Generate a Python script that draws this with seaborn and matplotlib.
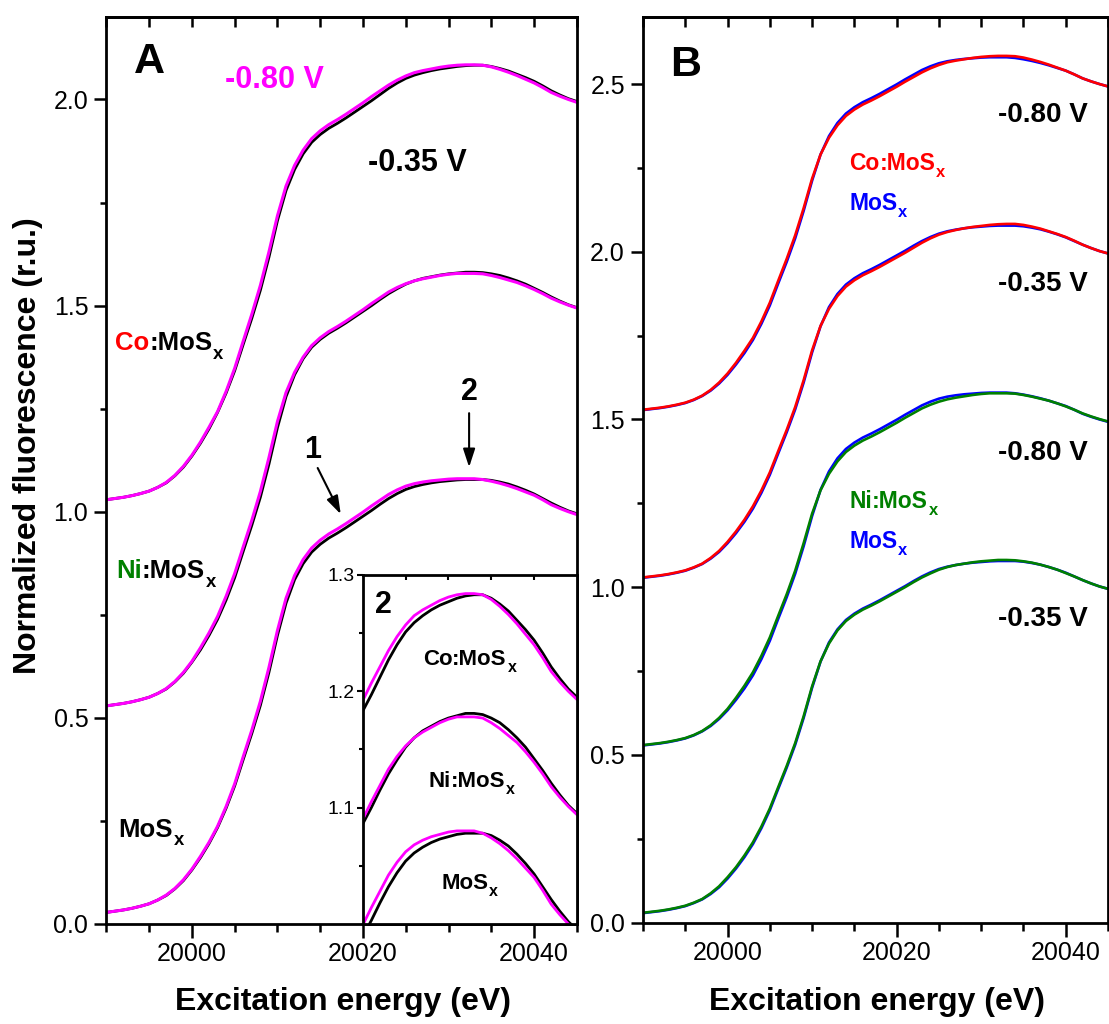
import numpy as np
import matplotlib
matplotlib.use("Agg")
import matplotlib.pyplot as plt
import seaborn as sns
from matplotlib.ticker import MultipleLocator, FormatStrFormatter, NullFormatter

# Mo K-edge XANES, energy grid (eV)
energy = list(range(19990, 20046))

# MoSx at -0.80 V and -0.35 V
mos_080 = [0.028, 0.031, 0.034, 0.038, 0.043, 0.049, 0.058, 0.070, 0.086, 0.107,
           0.133, 0.164, 0.198, 0.237, 0.285, 0.340, 0.406, 0.470, 0.540, 0.622,
           0.712, 0.790, 0.845, 0.884, 0.912, 0.931, 0.946, 0.958, 0.971, 0.985,
           0.999, 1.014, 1.028, 1.042, 1.053, 1.062, 1.068, 1.072, 1.075, 1.077,
           1.079, 1.080, 1.080, 1.080, 1.078, 1.074, 1.069, 1.063, 1.056, 1.048,
           1.040, 1.029, 1.017, 1.008, 1.000, 0.993]
mos_035 = [0.028, 0.031, 0.034, 0.038, 0.043, 0.049, 0.058, 0.069, 0.085, 0.105,
           0.131, 0.161, 0.195, 0.234, 0.281, 0.335, 0.399, 0.462, 0.530, 0.610,
           0.700, 0.778, 0.835, 0.874, 0.902, 0.921, 0.936, 0.948, 0.961, 0.975,
           0.989, 1.003, 1.018, 1.032, 1.044, 1.054, 1.061, 1.066, 1.070, 1.073,
           1.075, 1.077, 1.078, 1.078, 1.078, 1.076, 1.072, 1.067, 1.060, 1.052,
           1.043, 1.032, 1.021, 1.011, 1.002, 0.995]

# Ni:MoSx at -0.80 V and -0.35 V
ni_080 = [0.029, 0.032, 0.035, 0.039, 0.044, 0.050, 0.059, 0.071, 0.088, 0.110,
          0.137, 0.170, 0.206, 0.246, 0.295, 0.350, 0.415, 0.479, 0.549, 0.631,
          0.719, 0.789, 0.838, 0.875, 0.903, 0.922, 0.937, 0.949, 0.962, 0.976,
          0.990, 1.005, 1.019, 1.033, 1.044, 1.053, 1.060, 1.065, 1.069, 1.073,
          1.076, 1.078, 1.078, 1.078, 1.077, 1.073, 1.068, 1.062, 1.056, 1.048,
          1.039, 1.029, 1.018, 1.009, 1.001, 0.994]
ni_035 = [0.029, 0.032, 0.035, 0.039, 0.044, 0.050, 0.059, 0.070, 0.087, 0.108,
          0.135, 0.165, 0.200, 0.239, 0.286, 0.340, 0.404, 0.467, 0.535, 0.615,
          0.704, 0.779, 0.832, 0.871, 0.899, 0.918, 0.933, 0.945, 0.958, 0.972,
          0.986, 1.000, 1.015, 1.029, 1.041, 1.052, 1.060, 1.066, 1.070, 1.074,
          1.077, 1.079, 1.081, 1.081, 1.080, 1.077, 1.073, 1.067, 1.060, 1.052,
          1.042, 1.032, 1.021, 1.011, 1.002, 0.995]

# Co:MoSx at -0.80 V and -0.35 V
co_080 = [0.029, 0.032, 0.035, 0.039, 0.044, 0.050, 0.059, 0.071, 0.088, 0.110,
          0.137, 0.169, 0.205, 0.243, 0.292, 0.348, 0.414, 0.479, 0.549, 0.630,
          0.718, 0.790, 0.840, 0.877, 0.905, 0.924, 0.939, 0.951, 0.964, 0.978,
          0.992, 1.007, 1.021, 1.035, 1.047, 1.057, 1.065, 1.070, 1.074, 1.078,
          1.081, 1.083, 1.084, 1.084, 1.083, 1.079, 1.073, 1.066, 1.058, 1.049,
          1.040, 1.029, 1.017, 1.008, 1.000, 0.993]
co_035 = [0.029, 0.032, 0.035, 0.039, 0.044, 0.050, 0.059, 0.070, 0.087, 0.108,
          0.135, 0.166, 0.201, 0.241, 0.288, 0.342, 0.406, 0.469, 0.537, 0.617,
          0.706, 0.779, 0.830, 0.868, 0.896, 0.915, 0.930, 0.942, 0.955, 0.969,
          0.983, 0.997, 1.012, 1.027, 1.040, 1.051, 1.059, 1.065, 1.070, 1.074,
          1.077, 1.080, 1.082, 1.083, 1.083, 1.080, 1.075, 1.069, 1.061, 1.053,
          1.044, 1.033, 1.021, 1.011, 1.002, 0.995]

# vertical offsets of the stacked spectra
offsets_a = {"MoSx": 0.0, "Ni": 0.5, "Co": 1.0}
offsets_inset = {"MoSx": 0.0, "Ni": 0.1, "Co": 0.2}

MAGENTA = "#ff00ff"
RED = "#ff0000"
BLUE = "#0000ff"
GREEN = "#008000"

sns.set_theme(style="ticks")
plt.rcParams.update({
    "font.family": ["Liberation Sans", "DejaVu Sans"],
    "axes.linewidth": 2.0,
    "axes.edgecolor": "black",
    "axes.labelcolor": "black",
    "text.color": "black",
    "xtick.color": "black",
    "ytick.color": "black",
    "xtick.labelcolor": "black",
    "ytick.labelcolor": "black",
    "axes.formatter.useoffset": False,
})

fig = plt.figure(figsize=(11.09, 10.24), dpi=100)
axA = fig.add_axes([0.0959, 0.0977, 0.4243, 0.8857])
axB = fig.add_axes([0.5798, 0.0991, 0.4193, 0.8843])
axI = fig.add_axes([0.3271, 0.0977, 0.1931, 0.3408])


def curve(ax, values, offset, color, lw):
    sns.lineplot(x=energy, y=np.asarray(values) + offset, ax=ax, color=color,
                 lw=lw, estimator=None, sort=False, legend=False)


def style_main(ax, ymax):
    ax.set_xlim(19990, 20045)
    ax.set_ylim(0, ymax)
    ax.xaxis.set_major_locator(MultipleLocator(20))
    ax.xaxis.set_minor_locator(MultipleLocator(5))
    ax.yaxis.set_major_locator(MultipleLocator(0.5))
    ax.yaxis.set_minor_locator(MultipleLocator(0.25))
    ax.xaxis.set_major_formatter(FormatStrFormatter("%d"))
    ax.yaxis.set_major_formatter(FormatStrFormatter("%.1f"))
    ax.tick_params(axis="x", which="major", direction="out", length=10, width=1.8,
                   labelsize=18, pad=3, top=False)
    ax.tick_params(axis="x", which="minor", direction="out", length=5.5, width=1.8, top=False)
    ax.tick_params(axis="y", which="major", direction="out", length=9, width=1.8,
                   labelsize=18, pad=4, right=False)
    ax.tick_params(axis="y", which="minor", direction="out", length=4.5, width=1.8, right=False)
    top = ax.secondary_xaxis("top")
    top.xaxis.set_major_locator(MultipleLocator(5))
    top.xaxis.set_major_formatter(NullFormatter())
    top.tick_params(axis="x", which="major", direction="in", length=7, width=1.8)
    top.spines["top"].set_linewidth(2.0)
    ax.set_xlabel("Excitation energy (eV)", fontsize=23, fontweight="bold", color="black")
    for s in ax.spines.values():
        s.set_linewidth(2.0)


def rich(ax, x, y, segments, size):
    """Left-aligned bold label built from (text, colour, subscript) pieces on one baseline."""
    prev = None
    for text, color, sub in segments:
        fs = size * 0.72 if sub else size
        dy = -size * 0.33 if sub else 0.0
        dx = size * 0.03 if sub else 0.0
        if prev is None:
            prev = ax.text(x, y, text, color=color, fontsize=fs, fontweight="bold",
                           ha="left", va="baseline")
        else:
            prev = ax.annotate(text, xy=(1, y), xycoords=(prev, "data"),
                               xytext=(dx, dy), textcoords="offset points",
                               color=color, fontsize=fs, fontweight="bold",
                               ha="left", va="baseline")
    return prev


def mosx(prefix, color_prefix, color_rest):
    segs = []
    if prefix:
        segs.append((prefix, color_prefix, False))
        segs.append((":MoS", color_rest, False))
    else:
        segs.append(("MoS", color_rest, False))
    segs.append(("x", color_rest, True))
    return segs


# ---- panel A: -0.35 V (black) vs -0.80 V (magenta) ----
pairs_a = [("MoSx", mos_035, mos_080), ("Ni", ni_035, ni_080), ("Co", co_035, co_080)]
for key, v035, v080 in pairs_a:
    curve(axA, v035, offsets_a[key], "black", 2.0)
    curve(axA, v080, offsets_a[key], MAGENTA, 2.2)
style_main(axA, 2.2)
axA.set_ylabel("Normalized fluorescence (r.u.)", fontsize=23, fontweight="bold", color="black")
axA.yaxis.set_label_coords(-0.135, 0.527)
axA.xaxis.set_label_coords(0.502, -0.069)

axA.text(19995.0, 2.09, "A", fontsize=31, fontweight="bold", ha="center", va="center")
axA.text(20009.6, 2.047, "-0.80 V", color=MAGENTA, fontsize=22, fontweight="bold",
         ha="center", va="center")
axA.text(20026.3, 1.845, "-0.35 V", color="black", fontsize=22, fontweight="bold",
         ha="center", va="center")
rich(axA, 19991.0, 1.392, mosx("Co", RED, "black"), 18.5)
rich(axA, 19991.1, 0.839, mosx("Ni", GREEN, "black"), 18.5)
rich(axA, 19991.4, 0.211, mosx("", None, "black"), 18.5)

arrow_style = dict(arrowstyle="-|>,head_length=0.55,head_width=0.18", color="black",
                   lw=1.5, shrinkA=0, shrinkB=0, mutation_scale=20)
axA.text(20014.1, 1.149, "1", fontsize=22, fontweight="bold", ha="center", va="center")
axA.annotate("", xy=(20017.4, 0.994), xytext=(20014.7, 1.106), arrowprops=arrow_style)
axA.text(20032.4, 1.290, "2", fontsize=22, fontweight="bold", ha="center", va="center")
axA.annotate("", xy=(20032.4, 1.108), xytext=(20032.4, 1.239), arrowprops=arrow_style)

# ---- inset: region 2 enlarged ----
for key, v035, v080 in pairs_a:
    curve(axI, v035, offsets_inset[key], "black", 2.0)
    curve(axI, v080, offsets_inset[key], MAGENTA, 2.0)
axI.set_xlim(20020, 20045)
axI.set_ylim(1.0, 1.3)
axI.set_facecolor("white")
axI.set_xticks([20025, 20030, 20035, 20040])
axI.xaxis.set_ticks_position("top")
axI.tick_params(axis="x", direction="in", length=3.5, width=1.5,
                labeltop=False, labelbottom=False)
axI.set_yticks([1.1, 1.2, 1.3])
axI.set_yticks([1.05, 1.15, 1.25], minor=True)
axI.yaxis.set_major_formatter(FormatStrFormatter("%.1f"))
axI.tick_params(axis="y", which="major", direction="out", length=4, width=1.5,
                labelsize=14, pad=1.5, right=False)
axI.tick_params(axis="y", which="minor", direction="out", length=3, width=1.5, right=False)
axI.set_xlabel("")
axI.set_ylabel("")
for s in axI.spines.values():
    s.set_linewidth(2.0)
axI.text(20022.4, 1.274, "2", fontsize=22, fontweight="bold", ha="center", va="center")
rich(axI, 20027.0, 1.223, mosx("Co", "black", "black"), 16)
rich(axI, 20027.7, 1.118, mosx("Ni", "black", "black"), 16)
rich(axI, 20029.2, 1.030, mosx("", None, "black"), 16)

# ---- panel B: doped (red / green) vs undoped MoSx (blue) ----
pairs_b = [
    (mos_080, co_080, RED, 1.5),
    (mos_035, co_035, RED, 1.0),
    (mos_080, ni_080, GREEN, 0.5),
    (mos_035, ni_035, GREEN, 0.0),
]
for base, doped, color, off in pairs_b:
    curve(axB, base, off, BLUE, 1.9)
    curve(axB, doped, off, color, 1.9)
style_main(axB, 2.7)
axB.set_ylabel("")
axB.xaxis.set_label_coords(0.503, -0.071)

axB.text(19995.0, 2.558, "B", fontsize=31, fontweight="bold", ha="center", va="center")
for yv, txt in [(2.409, "-0.80 V"), (1.903, "-0.35 V"), (1.400, "-0.80 V"), (0.906, "-0.35 V")]:
    axB.text(20037.3, yv, txt, fontsize=20, fontweight="bold", ha="center", va="center")
rich(axB, 20014.4, 2.245, mosx("Co", RED, RED), 16.5)
rich(axB, 20014.4, 2.126, mosx("", None, BLUE), 16.5)
rich(axB, 20014.4, 1.237, mosx("Ni", GREEN, GREEN), 16.5)
rich(axB, 20014.4, 1.118, mosx("", None, BLUE), 16.5)

fig.savefig("out.png", dpi=100)
